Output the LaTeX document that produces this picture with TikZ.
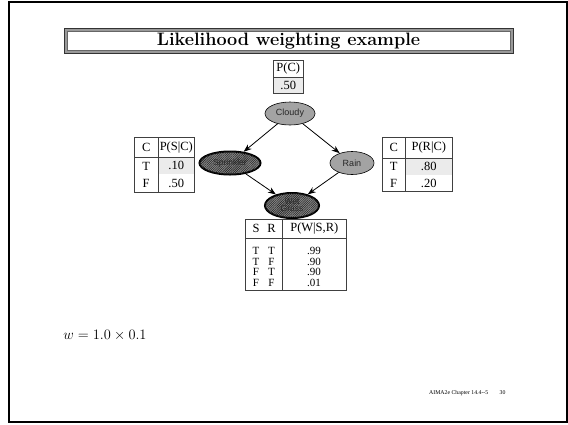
\documentclass[tikz,border=0pt]{standalone}
\usepackage{fontspec}
\newfontfamily\tabfont{Liberation Serif}
\newfontfamily\nodefont{Liberation Sans}
\usetikzlibrary{arrows.meta,shapes.geometric,patterns.meta}
\begin{document}
\begin{tikzpicture}[x=1pt,y=-1pt,
  cell/.style={draw=black!75,line width=0.6pt,inner sep=0pt,anchor=north west,font=\tabfont\fontsize{12.5}{13}\selectfont},
  bcell/.style={inner sep=0pt,anchor=north west,font=\tabfont\fontsize{12.5}{13}\selectfont},
  wcell/.style={inner sep=0pt,anchor=center,font=\tabfont\fontsize{11}{11}\selectfont},
  shade/.style={fill=black!8},
  tbox/.style={draw=black!75,line width=0.6pt},
  plainnode/.style={ellipse,draw=black,line width=0.6pt,fill=black!36,inner sep=0pt,font=\nodefont\fontsize{9}{9.5}\selectfont,text=black!85},
  evnode/.style={ellipse,draw=black,line width=2pt,fill=black!45,inner sep=0pt,font=\nodefont\fontsize{8.5}{8.5}\selectfont,text=black!85,
    postaction={pattern={Lines[angle=45,distance=1.6pt,line width=0.6pt]},pattern color=black!85}},
  arr/.style={-{Stealth[length=8pt,width=6pt]},line width=0.8pt,black}
]
\useasboundingbox (0,0) rectangle (568,424);
% outer frame
\draw[line width=2pt] (8.5,1.5) rectangle (566.5,421.5);
% title frame
\draw[line width=3pt,black!40] (65.6,29.9) rectangle (511.7,51.7);
\draw[line width=0.7pt,black!80] (64.3,28.6) rectangle (513,53);
\draw[line width=0.5pt,black!60] (66.9,31.2) rectangle (510.4,50.4);
\node[font=\fontsize{18}{20}\selectfont\bfseries] (title) at (288.5,41) {Likelihood weighting example};

% P(C) table
\node[cell,minimum width=30,minimum height=17] (pch) at (273,60) {P(C)};
\node[cell,shade,minimum width=30,minimum height=16] (pcv) at (273,77) {.50};

% nodes
\node[plainnode,minimum width=50,minimum height=23] (cloudy) at (290,113.5) {Cloudy};
\node[evnode,minimum width=61,minimum height=23] (sprinkler) at (230,163) {Sprinkler};
\node[plainnode,minimum width=44,minimum height=23] (rain) at (352,163) {Rain};
\node[evnode,minimum width=54,minimum height=25,align=center] (wet) at (292,205.5) {Wet\\[-1.5pt]Grass};

\draw[arr] (cloudy) -- (sprinkler);
\draw[arr] (cloudy) -- (rain);
\draw[arr] (sprinkler) -- (wet);
\draw[arr] (rain) -- (wet);

% P(S|C) table
\node[cell,minimum width=24,minimum height=20] (sch1) at (134,137) {C};
\node[cell,minimum width=36,minimum height=20] (sch2) at (158,137) {P(S|C)};
\node[bcell,minimum width=24,minimum height=17.5] (sct1) at (134,157) {T};
\node[bcell,minimum width=24,minimum height=17.5] (scf1) at (134,174.5) {F};
\node[bcell,shade,minimum width=35.4,minimum height=16.4] (sct2) at (158.3,157.3) {.10};
\node[bcell,minimum width=36,minimum height=17.5] (scf2) at (158,174.5) {.50};
\draw[tbox] (sct1.north west) rectangle (scf1.south east);
\draw[tbox] (158,157) rectangle (scf2.south east);

% P(R|C) table
\node[cell,minimum width=23,minimum height=21] (rch1) at (382,137) {C};
\node[cell,minimum width=47,minimum height=21] (rch2) at (405,137) {P(R|C)};
\node[bcell,minimum width=23,minimum height=16.5] (rct1) at (382,158) {T};
\node[bcell,minimum width=23,minimum height=16.5] (rcf1) at (382,174.5) {F};
\node[bcell,shade,minimum width=46.4,minimum height=16.2] (rct2) at (405.3,158.3) {.80};
\node[bcell,minimum width=47,minimum height=16.5] (rcf2) at (405,174.5) {.20};
\draw[tbox] (rct1.north west) rectangle (rcf1.south east);
\draw[tbox] (405,158) rectangle (rcf2.south east);

% P(W|S,R) table
\draw[tbox] (245,219) rectangle (282,238);
\node[cell,minimum width=64,minimum height=19] (wh3) at (282,219) {P(W|S,R)};
\node[bcell,anchor=center] (whs) at (256,228.5) {S};
\node[bcell,anchor=center] (whr) at (271.5,228.5) {R};
\draw[tbox] (245,238) rectangle (282,290);
\draw[tbox] (282,238) rectangle (346,290);
\node[wcell] (w1s) at (256,251) {T};
\node[wcell] (w1r) at (271.5,251) {T};
\node[wcell] (w1v) at (314,251) {.99};
\node[wcell] (w2s) at (256,261.5) {T};
\node[wcell] (w2r) at (271.5,261.5) {F};
\node[wcell] (w2v) at (314,261.5) {.90};
\node[wcell] (w3s) at (256,272) {F};
\node[wcell] (w3r) at (271.5,272) {T};
\node[wcell] (w3v) at (314,272) {.90};
\node[wcell] (w4s) at (256,282.5) {F};
\node[wcell] (w4r) at (271.5,282.5) {F};
\node[wcell] (w4v) at (314,282.5) {.01};

% weight
\node[font=\fontsize{14.4}{16}\selectfont] (weight) at (105,335) {$w = 1.0\times 0.1$};

% footer
\node[anchor=west,inner sep=0pt,font=\tabfont\fontsize{5.8}{6}\selectfont] (foot) at (429,393) {AIMA2e Chapter 14.4--5};
\node[anchor=west,inner sep=0pt,font=\tabfont\fontsize{5.8}{6}\selectfont] (page) at (499.5,393) {30};
\end{tikzpicture}
\end{document}
